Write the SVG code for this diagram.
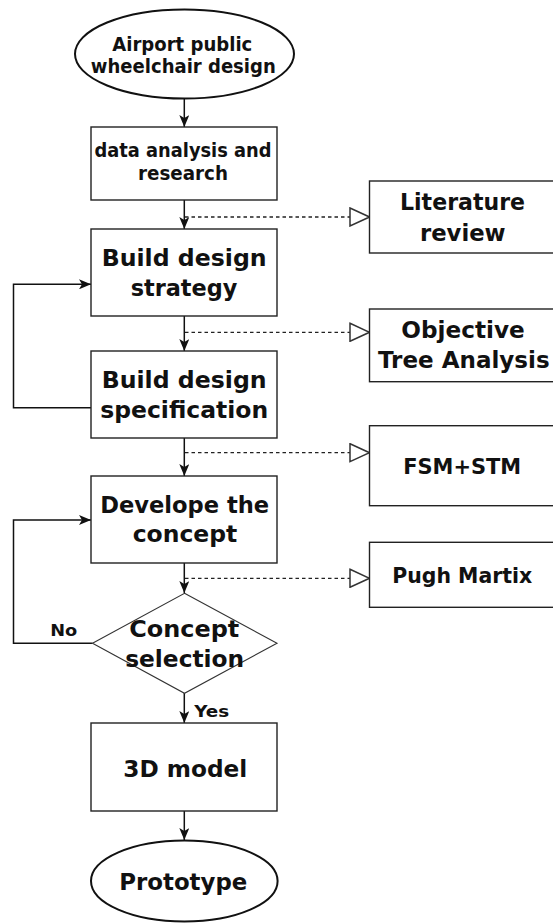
<svg xmlns="http://www.w3.org/2000/svg" width="553" height="923" viewBox="0 0 553 923">
<style>
  .box{fill:#fff;stroke:#222;stroke-width:1.4}
  .term{fill:#fff;stroke:#111;stroke-width:2}
  .dia{fill:#fff;stroke:#333;stroke-width:1.1}
  .t{font-family:"DejaVu Sans","Liberation Sans",sans-serif;font-weight:bold;font-size:23.5px;fill:#111;text-anchor:middle}
  .s{font-size:19px}
  .m{font-size:19.5px}
  .r{font-size:21px}
  .l{font-size:16px}
  .ln{fill:none;stroke:#111;stroke-width:1.5}
  .dash{fill:none;stroke:#222;stroke-width:1.3;stroke-dasharray:3.5 3}
</style>
<defs>
  <marker id="arr" viewBox="0 0 12 10" refX="12" refY="5" markerWidth="12" markerHeight="10" markerUnits="userSpaceOnUse" orient="auto">
    <path d="M0,0 L12,5 L0,10 L3,5 Z" fill="#111" stroke="none"/>
  </marker>
  <marker id="tri" viewBox="0 0 22 20" refX="21" refY="10" markerWidth="22" markerHeight="20" markerUnits="userSpaceOnUse" orient="auto">
    <path d="M1.5,1 L21,10 L1.5,19 Z" fill="#fff" stroke="#333" stroke-width="1.5" stroke-dasharray="none"/>
  </marker>
</defs>
<g id="connectors">
  <path class="ln" d="M184.3,99 V127" marker-end="url(#arr)"/>
  <path class="ln" d="M184.3,200 V229" marker-end="url(#arr)"/>
  <path class="ln" d="M184.3,316 V351" marker-end="url(#arr)"/>
  <path class="ln" d="M184.3,438 V476" marker-end="url(#arr)"/>
  <path class="ln" d="M184.3,563 V593" marker-end="url(#arr)"/>
  <path class="ln" d="M184.3,693 V723" marker-end="url(#arr)"/>
  <path class="ln" d="M184.3,811 V840" marker-end="url(#arr)"/>
  <path class="ln" d="M91,407.7 H13.5 V284.3 H91" marker-end="url(#arr)"/>
  <path class="ln" d="M92.5,643.3 H13.5 V520 H91" marker-end="url(#arr)"/>
  <path class="dash" d="M185,217 H369.5" marker-end="url(#tri)"/>
  <path class="dash" d="M185,332.3 H369.5" marker-end="url(#tri)"/>
  <path class="dash" d="M185,452.7 H369.5" marker-end="url(#tri)"/>
  <path class="dash" d="M185,578.3 H369.5" marker-end="url(#tri)"/>
  <text class="t l" x="63.7" y="636" textLength="27" lengthAdjust="spacingAndGlyphs">No</text>
  <text class="t l" x="211.7" y="716.7" textLength="35" lengthAdjust="spacingAndGlyphs">Yes</text>
</g>
<g id="start">
  <ellipse class="term" cx="184.5" cy="54" rx="109.5" ry="44.5"/>
  <text class="t s" x="182.3" y="50.7" textLength="140" lengthAdjust="spacingAndGlyphs">Airport public</text>
  <text class="t s" x="183.3" y="72.7" textLength="185" lengthAdjust="spacingAndGlyphs">wheelchair design</text>
</g>
<g id="data">
  <rect class="box" x="91" y="127" width="186" height="73"/>
  <text class="t m" x="183" y="156.7" textLength="177" lengthAdjust="spacingAndGlyphs">data analysis and</text>
  <text class="t m" x="183" y="179.8" textLength="90" lengthAdjust="spacingAndGlyphs">research</text>
</g>
<g id="strategy">
  <rect class="box" x="91" y="229" width="186" height="87"/>
  <text class="t" x="184.2" y="265.7" textLength="165" lengthAdjust="spacingAndGlyphs">Build design</text>
  <text class="t" x="184" y="296.3" textLength="106.7" lengthAdjust="spacingAndGlyphs">strategy</text>
</g>
<g id="spec">
  <rect class="box" x="91" y="351" width="186" height="87"/>
  <text class="t" x="184.2" y="388.3" textLength="165" lengthAdjust="spacingAndGlyphs">Build design</text>
  <text class="t" x="184.2" y="418.3" textLength="168" lengthAdjust="spacingAndGlyphs">specification</text>
</g>
<g id="develop">
  <rect class="box" x="91" y="476" width="186" height="87"/>
  <text class="t" x="184.7" y="512.7" textLength="169" lengthAdjust="spacingAndGlyphs">Develope the</text>
  <text class="t" x="185" y="541.7" textLength="104.6" lengthAdjust="spacingAndGlyphs">concept</text>
</g>
<g id="selection">
  <path class="dia" d="M184.5,593.3 L277,643.3 L184.5,693.3 L92.5,643.3 Z"/>
  <text class="t" x="184.3" y="636.7" textLength="110" lengthAdjust="spacingAndGlyphs">Concept</text>
  <text class="t" x="184.7" y="666.7" textLength="119" lengthAdjust="spacingAndGlyphs">selection</text>
</g>
<g id="model">
  <rect class="box" x="91" y="723" width="186" height="88"/>
  <text class="t" x="185.3" y="776.7" textLength="124" lengthAdjust="spacingAndGlyphs">3D model</text>
</g>
<g id="prototype">
  <ellipse class="term" cx="184.3" cy="881" rx="93.3" ry="40.5"/>
  <text class="t" x="183.3" y="890" textLength="128" lengthAdjust="spacingAndGlyphs">Prototype</text>
</g>
<g id="literature">
  <rect class="box" x="369.5" y="181" width="186" height="72"/>
  <text class="t" x="462.5" y="210" textLength="125" lengthAdjust="spacingAndGlyphs">Literature</text>
  <text class="t" x="462.8" y="240.7" textLength="85.7" lengthAdjust="spacingAndGlyphs">review</text>
</g>
<g id="objective">
  <rect class="box" x="369.5" y="309" width="186" height="72.7"/>
  <text class="t" x="463" y="338.3" textLength="123.4" lengthAdjust="spacingAndGlyphs">Objective</text>
  <text class="t" x="463.8" y="368.3" textLength="171.7" lengthAdjust="spacingAndGlyphs">Tree Analysis</text>
</g>
<g id="fsm">
  <rect class="box" x="369.5" y="425.7" width="186" height="80"/>
  <text class="t r" x="462.2" y="474" textLength="118" lengthAdjust="spacingAndGlyphs">FSM+STM</text>
</g>
<g id="pugh">
  <rect class="box" x="369.5" y="542.3" width="186" height="65"/>
  <text class="t r" x="462.3" y="582.7" textLength="140" lengthAdjust="spacingAndGlyphs">Pugh Martix</text>
</g>
</svg>
